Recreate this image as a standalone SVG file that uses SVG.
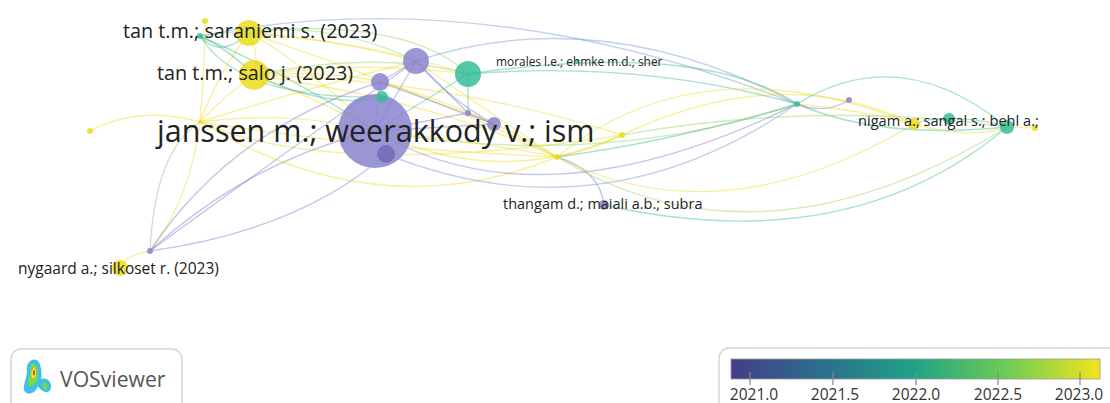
<svg xmlns="http://www.w3.org/2000/svg" width="1110" height="403" viewBox="0 0 1110 403">
<defs>
<style>
.e{fill:none;stroke-width:1.4;stroke-opacity:.42}
.pu{stroke:#7d77c8}.bl{stroke:#6f95cc}.te{stroke:#2fb890}.gr{stroke:#8fd060}.ye{stroke:#ecdc1c}.gy{stroke:#a9a38a}
.np{fill:#8a84cf;fill-opacity:.85}.nt{fill:#35bd96;fill-opacity:.85}.ny{fill:#ecdc1c;fill-opacity:.85}
.lb{font-family:"Open Sans","Noto Sans","DejaVu Sans",sans-serif;fill:#222}
.tk{stroke:#888;stroke-width:1.2}
.tl{font-family:"Open Sans","Noto Sans",sans-serif;font-size:15.5px;fill:#333;text-anchor:middle}
</style>
<linearGradient id="vir" x1="0" x2="1" y1="0" y2="0">
<stop offset="0" stop-color="#433e86"/>
<stop offset="0.25" stop-color="#2c6f8e"/>
<stop offset="0.5" stop-color="#20a386"/>
<stop offset="0.75" stop-color="#6fcc55"/>
<stop offset="1" stop-color="#f2e51d"/>
</linearGradient>
</defs>
<rect width="1110" height="403" fill="#fff"/>
<g id="connectors">
<path class="e ye" d="M90,131 Q140,105 200,122"/>
<path class="e ye" d="M200,122 Q220,70 249,33"/>
<path class="e ye" d="M200,122 Q225,95 254,75"/>
<path class="e ye" d="M200,122 Q290,110 375,131"/>
<path class="e ye" d="M200,122 Q380,150 557,157"/>
<path class="e ye" d="M200,122 Q190,200 150,251"/>
<path class="e ye" d="M200,122 Q205,60 205,21"/>
<path class="e ye" d="M200,122 Q300,90 416,61"/>
<path class="e ye" d="M200,122 Q330,180 622,135"/>
<path class="e ye" d="M200,122 Q380,230 557,157"/>
<path class="e te" d="M200,36 Q230,50 254,75"/>
<path class="e te" d="M200,36 Q220,60 249,33"/>
<path class="e te" d="M200,36 Q300,80 375,131"/>
<path class="e te" d="M200,36 Q240,100 382,97"/>
<path class="e bl" d="M200,36 Q480,-20 797,104"/>
<path class="e gr" d="M200,36 Q400,10 468,74"/>
<path class="e ye" d="M249,33 Q300,60 375,131"/>
<path class="e ye" d="M249,33 Q260,55 254,75"/>
<path class="e ye" d="M249,33 Q340,40 416,61"/>
<path class="e ye" d="M249,33 Q360,40 468,74"/>
<path class="e ye" d="M249,33 Q420,90 557,157"/>
<path class="e gr" d="M249,33 Q330,20 416,61"/>
<path class="e ye" d="M254,75 Q320,100 375,131"/>
<path class="e ye" d="M254,75 Q330,70 380,82"/>
<path class="e ye" d="M254,75 Q360,60 468,74"/>
<path class="e ye" d="M254,75 Q430,100 557,157"/>
<path class="e ye" d="M254,75 Q450,80 622,135"/>
<path class="e te" d="M254,75 Q330,110 382,97"/>
<path class="e gr" d="M254,75 Q380,50 468,74"/>
<path class="e pu" d="M150,251 Q250,160 375,131"/>
<path class="e pu" d="M150,251 Q230,130 380,82"/>
<path class="e pu" d="M150,251 Q300,230 386,154"/>
<path class="e gy" d="M150,251 Q155,150 200,122"/>
<path class="e ye" d="M150,251 Q125,255 120,268"/>
<path class="e pu" d="M150,251 Q260,170 416,61"/>
<path class="e pu" d="M375,131 L380,82"/>
<path class="e pu" d="M375,131 L416,61"/>
<path class="e te" d="M375,131 L468,74"/>
<path class="e pu" d="M375,131 L468,113"/>
<path class="e pu" d="M375,131 L494,124"/>
<path class="e pu" d="M380,82 Q400,70 416,61"/>
<path class="e pu" d="M416,61 L468,113"/>
<path class="e pu" d="M416,61 Q450,100 494,124"/>
<path class="e te" d="M468,74 L468,113"/>
<path class="e pu" d="M468,113 Q480,118 494,124"/>
<path class="e pu" d="M380,82 L494,124"/>
<path class="e bl" d="M416,61 Q600,0 797,104"/>
<path class="e te" d="M468,74 Q640,60 797,104"/>
<path class="e te" d="M468,74 Q700,40 797,104"/>
<path class="e pu" d="M375,131 Q540,230 797,104"/>
<path class="e bl" d="M386,154 Q600,240 797,104"/>
<path class="e gr" d="M375,131 Q600,170 797,104"/>
<path class="e ye" d="M416,61 Q500,120 557,157"/>
<path class="e ye" d="M375,131 Q470,140 557,157"/>
<path class="e ye" d="M375,131 Q500,190 622,135"/>
<path class="e ye" d="M380,82 Q480,110 557,157"/>
<path class="e pu" d="M557,157 Q600,170 604,205"/>
<path class="e ye" d="M557,157 Q590,150 622,135"/>
<path class="e ye" d="M557,157 Q700,40 914,124"/>
<path class="e ye" d="M557,157 Q720,240 914,124"/>
<path class="e gr" d="M557,157 Q760,280 1007,127"/>
<path class="e ye" d="M622,135 Q780,60 914,124"/>
<path class="e te" d="M557,157 Q680,140 797,104"/>
<path class="e te" d="M797,104 Q880,140 1007,127" stroke-width="2.2"/>
<path class="e te" d="M797,104 Q900,40 1007,127"/>
<path class="e pu" d="M797,104 Q825,115 849,100"/>
<path class="e ye" d="M797,104 Q860,110 914,124"/>
<path class="e te" d="M914,124 Q930,118 949,119"/>
<path class="e te" d="M949,119 Q980,118 1007,127"/>
<path class="e ye" d="M914,124 Q970,140 1007,127"/>
<path class="e ye" d="M1007,127 L1035,128"/>
<path class="e te" d="M604,205 Q850,260 1007,127"/>
<path class="e gr" d="M622,135 Q820,100 1007,127"/>
</g>
<g id="node-janssen"><circle class="np" cx="375" cy="131" r="37"/><circle fill="#6f68b8" fill-opacity=".8" cx="386" cy="154" r="9"/></g>
<g id="node-p1"><circle class="np" cx="380" cy="82" r="9"/></g>
<g id="node-t1"><circle class="nt" cx="382" cy="97" r="6"/></g>
<g id="node-p2"><circle class="np" cx="416" cy="61" r="13"/></g>
<g id="node-t2"><circle class="nt" cx="468" cy="74" r="13"/></g>
<g id="node-p3"><circle class="np" cx="468" cy="113" r="3"/></g>
<g id="node-p4"><circle class="np" cx="494" cy="124" r="7"/></g>
<g id="node-saraniemi"><circle class="ny" cx="249" cy="33" r="13"/></g>
<g id="node-salo"><circle class="ny" cx="254" cy="75" r="15"/></g>
<g id="node-y3"><circle class="ny" cx="205" cy="21" r="3"/></g>
<g id="node-t3"><circle class="nt" cx="200" cy="36" r="3"/></g>
<g id="node-y4"><circle class="ny" cx="90" cy="131" r="3"/></g>
<g id="node-y5"><circle class="ny" cx="200" cy="122" r="2"/></g>
<g id="node-y6"><circle class="ny" cx="622" cy="135" r="3"/></g>
<g id="node-y7"><circle class="ny" cx="557" cy="157" r="3"/></g>
<g id="node-morales"><circle class="nt" cx="577" cy="62" r="2"/></g>
<g id="node-thangam"><circle class="np" cx="604" cy="205" r="5"/></g>
<g id="node-p6"><circle class="np" cx="150" cy="251" r="3"/></g>
<g id="node-nygaard"><circle class="ny" cx="120" cy="268" r="8"/></g>
<g id="node-t4"><circle class="nt" cx="797" cy="104" r="3"/></g>
<g id="node-p7"><circle class="np" cx="849" cy="100" r="3"/></g>
<g id="node-nigam"><circle class="ny" cx="914" cy="124" r="6"/></g>
<g id="node-t5"><circle class="nt" cx="949" cy="119" r="6"/></g>
<g id="node-t6"><circle class="nt" cx="1007" cy="127" r="7"/></g>
<g id="node-y10"><circle class="ny" cx="1035" cy="128" r="3"/></g>
<g id="labels">
<text class="lb" x="157" y="142" font-size="30.5">janssen m.; weerakkody v.; ism</text>
<text class="lb" x="123" y="38" font-size="19.8">tan t.m.; saraniemi s. (2023)</text>
<text class="lb" x="157" y="80" font-size="19.8">tan t.m.; salo j. (2023)</text>
<text class="lb" x="496" y="66" font-size="11.9" fill="#333">morales l.e.; ehmke m.d.; sher</text>
<text class="lb" x="503" y="209" font-size="14.5">thangam d.; maiali a.b.; subra</text>
<text class="lb" x="18" y="274" font-size="15.5">nygaard a.; silkoset r. (2023)</text>
<text class="lb" x="858" y="126" font-size="14.6">nigam a.; sangal s.; behl a.;</text>
</g>
<g id="vosviewer-logo">
<rect x="11" y="349" width="171" height="70" rx="10" fill="#fff" stroke="#d6d6d6" stroke-width="1.5"/>
<g transform="translate(-8,-77) scale(1.2)">
<path d="M34,364 C40,362 42,372 41,380 C46,378 52,384 48,390 C44,393 40,388 38,386 C37,392 29,394 27,390 C25,385 30,378 29,372 C29,367 31,365 34,364 Z" fill="#3ec0e8"/>
<path d="M35,367 C38,367 39,374 38,381 C36,385 31,388 30,385 C29,380 33,376 32,372 C32,369 33,367 35,367 Z" fill="#7ad64a"/>
<path d="M43,382 C46,383 47,387 45,389 C43,389 41,386 43,382 Z" fill="#7ad64a"/>
<path d="M35,370 C37,371 37,376 36,379 C34,381 32,378 33,374 Z" fill="#f0e030"/>
<path d="M35,372 C36,373 36,376 35,377 C34,377 34,374 35,372 Z" fill="#e02020"/>
</g>
<text x="60" y="387" font-family="Open Sans,Noto Sans,sans-serif" font-size="21.2" fill="#555">VOSviewer</text>
</g>
<g id="color-legend">
<rect x="719" y="348" width="400" height="70" rx="10" fill="#fff" stroke="#d6d6d6" stroke-width="1.5"/>
<rect x="731" y="359" width="369" height="20" fill="url(#vir)" stroke="#999" stroke-width="0.8"/>
<line class="tk" x1="750" y1="372" x2="750" y2="385"/>
<line class="tk" x1="833" y1="372" x2="833" y2="385"/>
<line class="tk" x1="916" y1="372" x2="916" y2="385"/>
<line class="tk" x1="998" y1="372" x2="998" y2="385"/>
<line class="tk" x1="1080" y1="372" x2="1080" y2="385"/>
<text class="tl" x="754" y="400">2021.0</text>
<text class="tl" x="835" y="400">2021.5</text>
<text class="tl" x="916" y="400">2022.0</text>
<text class="tl" x="998" y="400">2022.5</text>
<text class="tl" x="1079" y="400">2023.0</text>
</g>
</svg>
